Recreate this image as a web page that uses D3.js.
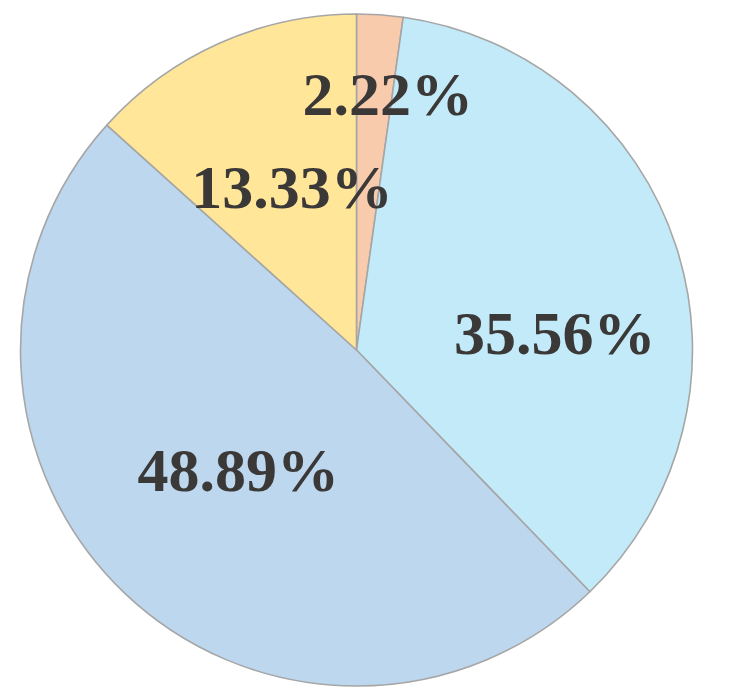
<!DOCTYPE html>
<html><head><meta charset="utf-8">
<script src="https://cdn.jsdelivr.net/npm/d3@7"></script>
<style>html,body{margin:0;padding:0;background:#fff;}</style>
</head><body>
<svg id="chart" width="731" height="700"></svg>
<script>
// Data (clockwise from 12 o'clock)
const categories = ["A", "B", "C", "D"];
const values = [2.22, 35.56, 48.89, 13.33];
const labels = ["2.22%", "35.56%", "48.89%", "13.33%"];
const colors = ["#F8CBAD", "#C2EAF8", "#BDD7EE", "#FFE699"];

// Layout
const cx = 356.5, cy = 350, R = 336;
// label placement: polar (angle offset from slice mid in degrees, radius fraction) for baseline-centre
const labelPolar = [[3.6, 0.705], [19.2, 0.59], [-4, 0.548], [-0.4, 0.465]];

const svg = d3.select("#chart");
const g = svg.append("g").attr("transform", `translate(${cx},${cy})`);
const pie = d3.pie().sort(null).value(d => d)(values);
const arc = d3.arc().innerRadius(0).outerRadius(R);

g.selectAll("path").data(pie).join("path")
  .attr("d", arc)
  .attr("fill", (d, i) => colors[i])
  .attr("stroke", "#A6A6A6")
  .attr("stroke-width", 1.6)
  .attr("stroke-linejoin", "round");

g.selectAll("text").data(pie).join("text")
  .attr("x", (d, i) => {
    const a = (d.startAngle + d.endAngle) / 2 + labelPolar[i][0] * Math.PI / 180;
    return Math.sin(a) * R * labelPolar[i][1];
  })
  .attr("y", (d, i) => {
    const a = (d.startAngle + d.endAngle) / 2 + labelPolar[i][0] * Math.PI / 180;
    return -Math.cos(a) * R * labelPolar[i][1];
  })
  .attr("text-anchor", "middle")
  .attr("font-family", "'Liberation Serif', 'Times New Roman', serif")
  .attr("font-weight", "bold")
  .attr("font-size", 62)
  .attr("fill", "#3B3838")
  .text((d, i) => labels[i]);
</script>
</body></html>
